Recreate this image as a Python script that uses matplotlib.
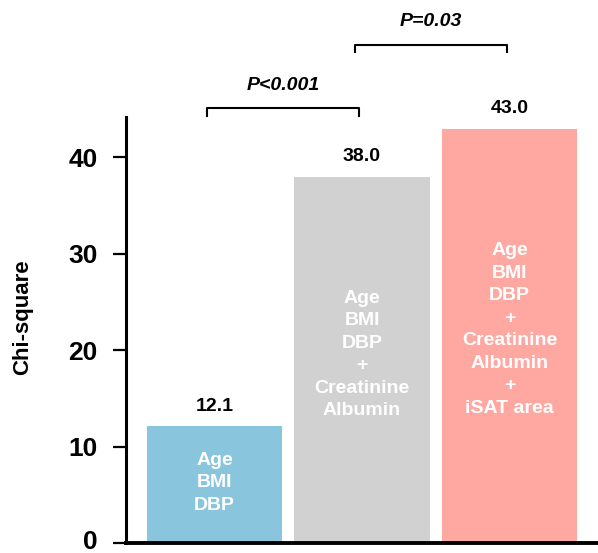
import matplotlib.pyplot as plt
import matplotlib.transforms as mtransforms
import numpy as np

plt.rcParams['font.family'] = ['Liberation Sans', 'DejaVu Sans']

values = [12.1, 38.0, 43.0]
labels = ["12.1", "38.0", "43.0"]
inner_text = [
    "Age\nBMI\nDBP",
    "Age\nBMI\nDBP\n+\nCreatinine\nAlbumin",
    "Age\nBMI\nDBP\n+\nCreatinine\nAlbumin\n+\niSAT area",
]
colors = ["#89c5dc", "#d1d1d1", "#ffa8a2"]
comparisons = [(0, 1, "P<0.001"), (1, 2, "P=0.03")]

fig = plt.figure(figsize=(5.98, 5.53), dpi=100)
ax = fig.add_axes([126 / 598, 1 - 543 / 553, 1 - 126 / 598, (543 - 117) / 553])

x = np.arange(len(values))
ax.bar(x, values, width=0.92, color=colors)

for xi, v, lab, txt in zip(x, values, labels, inner_text):
    ax.annotate(lab, (xi, v), xytext=(0, 14.5), textcoords="offset points",
                ha="center", va="center", fontsize=14, fontweight="bold")
    ax.text(xi, v * 0.515, txt, ha="center", va="center", color="white",
            fontsize=14, fontweight="bold", linespacing=1.42)

# significance brackets
bracket_y = [45.1, 51.7]
for (a, b, p), y in zip(comparisons, bracket_y):
    x0, x1 = a - 0.05, b - 0.02
    ax.plot([x0, x0, x1, x1], [y - 0.8, y, y, y - 0.8], color="black",
            lw=1.5, clip_on=False)
    ax.text((x0 + x1) / 2, y + 2.4, p, ha="center", va="center",
            fontsize=14, fontweight="bold", style="italic")

ax.set_xlim(-0.6, 2.6)
ax.set_ylim(0, 44.2)
ax.set_yticks([0, 10, 20, 30, 40])
ax.set_xticks([])
ax.tick_params(axis="y", length=9.5, width=1.6, pad=11, labelsize=19)
for t in ax.get_yticklabels():
    t.set_fontweight("bold")
for s in ["top", "right"]:
    ax.spines[s].set_visible(False)
ax.spines["left"].set_linewidth(2.2)
ax.spines["bottom"].set_linewidth(2.8)

# nudge the "0" label up so it is not clipped at the bottom edge
zero_lab = ax.yaxis.get_major_ticks()[0].label1
zero_lab.set_transform(zero_lab.get_transform() +
                       mtransforms.ScaledTranslation(0, 2.5 / 72, fig.dpi_scale_trans))

ax.set_ylabel("Chi-square", fontsize=16, fontweight="bold", va="center")
ax.yaxis.set_label_coords(-0.218, 0.53)

fig.savefig("out.png", dpi=100)
